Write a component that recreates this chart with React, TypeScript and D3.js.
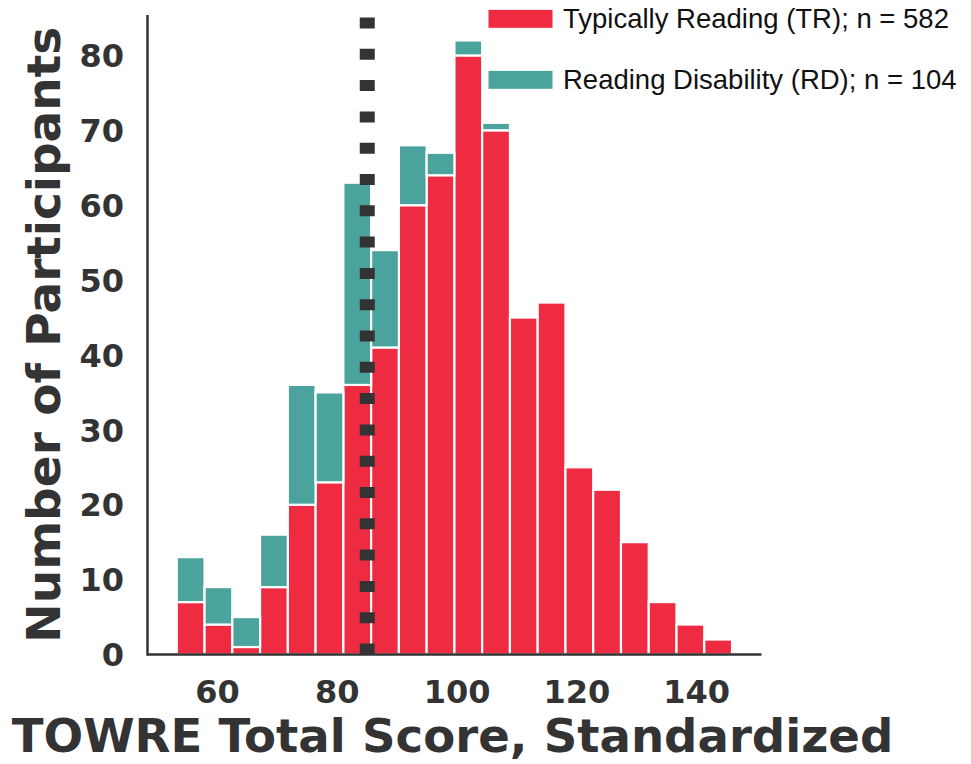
import React from 'react';
import * as d3 from 'd3';

// histogram counts per bin (20 bins)
const trCounts = [7, 4, 1, 9, 20, 23, 36, 41, 60, 64, 80, 70, 45, 47, 25, 22, 15, 7, 4, 2];
const rdCounts = [6, 5, 4, 7, 16, 12, 27, 13, 8, 3, 2, 1, 0, 0, 0, 0, 0, 0, 0, 0];
const binStart = 53.2;
const binWidth = 4.635;
const cutoff = 85;

const xTicks = [60, 80, 100, 120, 140];
const yTicks = [0, 10, 20, 30, 40, 50, 60, 70, 80];

const legendLabels = ['Typically Reading (TR); n = 582', 'Reading Disability (RD); n = 104'];
const keys = ['tr', 'rd'];

const colors: Record<string, string> = { tr: '#ee2b40', rd: '#4aa39c' };
const ink = '#333333';
const boldFont = '"DejaVu Sans", sans-serif';

export default function App() {
    const width = 971;
    const height = 764;
    const plot = { left: 147.5, right: 761.5, top: 15, bottom: 654.5 };

    const xScale = d3.scaleLinear().domain([48.31, 150.82]).range([plot.left, plot.right]);
    const yScale = d3.scaleLinear().domain([0, 85.4]).range([plot.bottom, plot.top]);

    const rows = trCounts.map((tr, i) => ({
        x0: binStart + i * binWidth,
        x1: binStart + (i + 1) * binWidth,
        tr,
        rd: rdCounts[i],
    }));
    const stacked = d3.stack<any>().keys(keys)(rows);

    return (
        <svg width={width} height={height} style={{ position: 'absolute', left: 0, top: 0, background: '#fff' }}>
            {/* stacked bars */}
            {stacked.map(layer => (
                <g key={layer.key} fill={colors[layer.key]}>
                    {layer.map((d, i) => d[1] - d[0] > 0 && (
                        <rect
                            key={i}
                            x={xScale(d.data.x0)}
                            width={xScale(d.data.x1) - xScale(d.data.x0)}
                            y={yScale(d[1])}
                            height={yScale(d[0]) - yScale(d[1])}
                            stroke="#fff"
                            strokeWidth={2.2}
                        />
                    ))}
                </g>
            ))}

            {/* cutoff line, drawn from the bottom up so the dashes start at the axis */}
            <line
                x1={xScale(cutoff)} x2={xScale(cutoff)}
                y1={plot.bottom} y2={plot.top}
                stroke={ink} strokeWidth={15} strokeDasharray="11 20.3"
            />

            {/* spines */}
            <line x1={plot.left} x2={plot.left} y1={plot.top} y2={plot.bottom + 1.25} stroke={ink} strokeWidth={2.5} />
            <line x1={plot.left} x2={plot.right} y1={plot.bottom} y2={plot.bottom} stroke={ink} strokeWidth={2.5} />

            {/* tick labels */}
            {xTicks.map(t => (
                <text key={t} x={xScale(t)} y={703} textAnchor="middle" fontFamily={boldFont}
                    fontWeight="bold" fontSize={32} fill={ink}>{t}</text>
            ))}
            {yTicks.map(t => (
                <text key={t} x={124} y={yScale(t) + 11.7} textAnchor="end" fontFamily={boldFont}
                    fontWeight="bold" fontSize={32} fill={ink}>{t}</text>
            ))}

            {/* axis titles */}
            <text x={452.5} y={752} textAnchor="middle" fontFamily={boldFont} fontWeight="bold"
                fontSize={46.6} fill={ink}>TOWRE Total Score, Standardized</text>
            <text transform={`translate(60, ${(plot.top + plot.bottom) / 2}) rotate(-90)`} textAnchor="middle"
                fontFamily={boldFont} fontWeight="bold" fontSize={47} fill={ink}>Number of Participants</text>

            {/* legend */}
            {keys.map((k, i) => (
                <g key={k} transform={`translate(488, ${9.3 + i * 61})`}>
                    <rect width={65} height={19} fill={colors[k]} stroke="#fff" strokeWidth={1} />
                    <text x={75} y={19} fontFamily='"Liberation Sans", Arial, sans-serif' fontSize={27.5}
                        fill="#111">{legendLabels[i]}</text>
                </g>
            ))}
        </svg>
    );
}
